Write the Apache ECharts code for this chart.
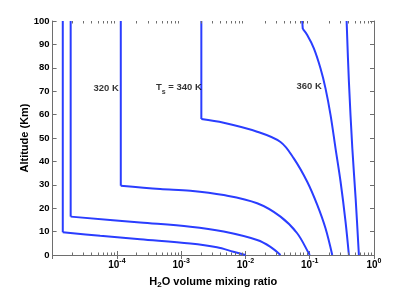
<!DOCTYPE html>
<html>
<head>
<meta charset="utf-8">
<script src="https://cdn.jsdelivr.net/npm/echarts@6/dist/echarts.min.js"></script>
<style>html,body{margin:0;padding:0;background:#fff}#c{width:415px;height:288px}</style>
</head>
<body>
<div id="c"></div>
<script>
// ---- data (x: H2O volume mixing ratio, y: altitude km) ----
const curveA = [[1.44e-5,100],[1.44e-5,9.7],[5.5e-5,8.2],[2.3e-4,6.7],[1.39e-3,4.9],[3.6e-3,3.3],[6.5e-3,1.4],[1.0e-2,0]];
const curveB = [[1.91e-5,100],[1.91e-5,16.4],[2.3e-4,13.9],[1.39e-3,12.1],[4.58e-3,10.0],[1.52e-2,6.4],[2.45e-2,3.5],[3.51e-2,0]];
const curveC = [[1.15e-4,100],[1.15e-4,29.6],[4.72e-4,28.2],[1.39e-3,27.5],[4.58e-3,25.6],[1.52e-2,22.1],[3.51e-2,16.4],[6.38e-2,9.3],[9.68e-2,0.7],[0.1,0]];
const curveD = [[2.06e-3,100],[2.06e-3,58.1],[4.58e-3,56.5],[1.52e-2,52.7],[3.51e-2,48.3],[5.65e-2,41.3],[9.14e-2,31.3],[0.131,21.4],[0.176,11.4],[0.224,0]];
const curveE = [[7.64e-2,100],[7.8e-2,96.6],[9.14e-2,94.0],[0.116,88.3],[0.147,79.8],[0.176,71.2],[0.211,59.8],[0.252,45.6],[0.302,31.3],[0.361,14.2],[0.407,0]];
const curveF = [[0.375,100],[0.407,74.1],[0.460,45.6],[0.518,24.2],[0.582,0]];
const curves = [curveA, curveB, curveC, curveD, curveE, curveF];
const kneeIndex = [1, 1, 1, 1, 1, 0];

const labelTexts = ['320 K', '{a|T}{s|s}{a| = 340 K}', '360 K'];
const labelPos = [[6.8e-5, 71.4], [9.2e-4, 71.6], [0.098, 71.9]];

const xMin = 1e-5, xMax = 1;
const yMin = 0, yMax = 100, yStep = 10;
const decadeExps = [-5, -4, -3, -2, -1];
const minorMult = [2, 3, 4, 5, 6, 7, 8, 9];
const minorTicks = [];
decadeExps.forEach(e => minorMult.forEach(m => minorTicks.push(m * Math.pow(10, e))));

const axisGray = '#6e6e6e';
const lineBlue = '#2a3dff';
const fontFam = '"Liberation Sans", Arial, Helvetica, sans-serif';

const chart = echarts.init(document.getElementById('c'), null, {renderer: 'canvas'});

const xAxisBase = {
  type: 'log', logBase: 10, min: xMin, max: xMax,
  splitLine: {show: false},
  axisLine: {show: true, lineStyle: {color: axisGray, width: 1}},
  axisTick: {show: true, inside: true, length: 4, lineStyle: {color: axisGray}},
};
const yAxisBase = {
  type: 'value', min: yMin, max: yMax, interval: yStep,
  splitLine: {show: false},
  axisLine: {show: true, lineStyle: {color: axisGray, width: 1}},
  axisTick: {show: true, inside: true, length: 4, lineStyle: {color: axisGray}},
};

const series = [];
curves.forEach((c, i) => {
  const k = kneeIndex[i];
  const common = {
    type: 'line', xAxisIndex: 0, yAxisIndex: 0,
    showSymbol: false, symbol: 'none',
    lineStyle: {color: lineBlue, width: 2}, animation: false, silent: true, z: 3
  };
  if (k > 0) series.push(Object.assign({}, common, {data: c.slice(0, k + 1), smooth: false}));
  series.push(Object.assign({}, common, {data: c.slice(k), smooth: 0.35}));
});

series.push({
  type: 'custom', xAxisIndex: 0, yAxisIndex: 0, silent: true, animation: false, clip: false, z: 4,
  data: minorTicks.map(v => [v, 0]),
  renderItem: function (params, api) {
    const v = api.value(0);
    const pb = api.coord([v, yMin]);
    const pt = api.coord([v, yMax]);
    const st = {stroke: axisGray, lineWidth: 1};
    const x = Math.round(pb[0]) + 0.5;
    return {type: 'group', children: [
      {type: 'line', shape: {x1: x, y1: pb[1], x2: x, y2: pb[1] - 2.5}, style: st},
      {type: 'line', shape: {x1: x, y1: pt[1], x2: x, y2: pt[1] + 2.5}, style: st}
    ]};
  }
});

series.push({
  type: 'scatter', xAxisIndex: 0, yAxisIndex: 0, silent: true, animation: false,
  symbolSize: 0, z: 5,
  data: labelPos.map((p, i) => ({value: p, name: labelTexts[i]})),
  label: {
    show: true, position: 'inside', formatter: p => p.name,
    color: '#000', fontFamily: fontFam, fontWeight: 'bold', fontSize: 9.5,
    rich: {
      a: {fontFamily: fontFam, fontWeight: 'bold', fontSize: 9.5, color: '#000', lineHeight: 16},
      s: {fontFamily: fontFam, fontWeight: 'bold', fontSize: 7, color: '#000', lineHeight: 8, verticalAlign: 'bottom'}
    }
  }
});

chart.setOption({
  animation: false,
  backgroundColor: '#fff',
  textStyle: {fontFamily: fontFam},
  grid: {left: 52.6, right: 41, top: 21, bottom: 33, containLabel: false, outerBoundsMode: 'none'},
  xAxis: [
    Object.assign({}, xAxisBase, {
      position: 'bottom',
      name: '{n|H}{sb|2}{n|O volume mixing ratio}', nameLocation: 'middle', nameGap: 20,
      nameMoveOverlap: false,
      nameTextStyle: {
        rich: {
          n: {fontFamily: fontFam, fontWeight: 'bold', fontSize: 11, color: '#000', lineHeight: 14},
          sb: {fontFamily: fontFam, fontWeight: 'bold', fontSize: 8, color: '#000', lineHeight: 8, verticalAlign: 'bottom'}
        }
      },
      axisLabel: {
        show: true, margin: 3,
        formatter: function (v) {
          const e = Math.round(Math.log10(v));
          if (e === -5) return '';
          return '{b|10}{s|' + e + '}';
        },
        rich: {
          b: {fontFamily: fontFam, fontWeight: 'bold', fontSize: 10, color: '#000', lineHeight: 12, verticalAlign: 'bottom'},
          s: {fontFamily: fontFam, fontWeight: 'bold', fontSize: 7, color: '#000', lineHeight: 8, verticalAlign: 'top'}
        }
      }
    }),
    Object.assign({}, xAxisBase, {position: 'top', axisLabel: {show: false}})
  ],
  yAxis: [
    Object.assign({}, yAxisBase, {
      position: 'left',
      name: 'Altitude (Km)', nameLocation: 'middle', nameGap: 22,
      nameMoveOverlap: false,
      nameTextStyle: {fontFamily: fontFam, fontWeight: 'bold', fontSize: 11, color: '#000'},
      axisLabel: {show: true, margin: 3, fontFamily: fontFam, fontWeight: 'bold', fontSize: 9.5, color: '#000'}
    }),
    Object.assign({}, yAxisBase, {position: 'right', axisLabel: {show: false}})
  ],
  series: series
});
</script>
</body>
</html>
